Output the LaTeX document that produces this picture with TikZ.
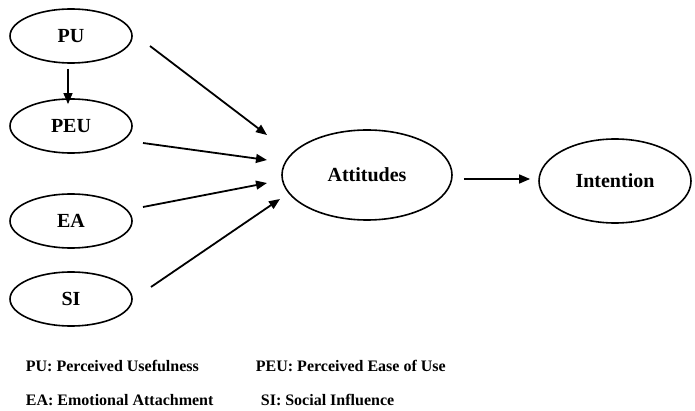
\documentclass[tikz,border=0pt]{standalone}
\usepackage{fontspec}
\setmainfont{Liberation Serif}
\usetikzlibrary{shapes.geometric, arrows.meta}

\begin{document}
\begin{tikzpicture}[x=0.5pt, y=-0.5pt, line width=0.9pt,
    construct/.style={ellipse, draw, line width=0.8pt, inner sep=0pt, font=\bfseries\fontsize{10}{12}\selectfont},
    small/.style={construct, minimum width=61pt, minimum height=27pt},
    path/.style={-{Triangle[length=5.5pt, width=4.4pt]}},
    legend/.style={anchor=base west, inner sep=0pt, font=\bfseries\fontsize{8}{10}\selectfont}]
    \useasboundingbox (0, 0) rectangle (695, 411);

    % draw constructs
    \node[small] (pu)  at (71, 36)  {PU};
    \node[small] (peu) at (71, 126) {PEU};
    \node[small] (ea)  at (71, 221) {EA};
    \node[small] (si)  at (71, 299) {SI};
    \node[construct, minimum width=85pt, minimum height=45pt] (att) at (367, 175) {Attitudes};
    \node[construct, minimum width=76pt, minimum height=42pt] (int) at (615, 181) {Intention};

    % draw arrow ends
    \coordinate (pu-out)  at (150, 46);
    \coordinate (peu-out) at (143, 143);
    \coordinate (ea-out)  at (143, 207);
    \coordinate (si-out)  at (151, 287);
    \coordinate (att-in1) at (267, 135);
    \coordinate (att-in2) at (267, 160);
    \coordinate (att-in3) at (267, 183);
    \coordinate (att-in4) at (280, 199);

    % draw arrows
    \draw[path] (pu.south) ++(-3, 5) -- ([xshift=-1.5pt, yshift=-3pt]peu.north);
    \draw[path] (pu-out)  -- (att-in1);
    \draw[path] (peu-out) -- (att-in2);
    \draw[path] (ea-out)  -- (att-in3);
    \draw[path] (si-out)  -- (att-in4);
    \draw[path] ([xshift=5.5pt, yshift=-2pt]att.east) -- ([xshift=-4pt]int.west |- 0, 179);

    % draw legend
    \node[legend] (leg-pu)  at (25, 371)  {PU: Perceived Usefulness};
    \node[legend] (leg-peu) at (255, 371) {PEU: Perceived Ease of Use};
    \node[legend] (leg-ea)  at (25, 405)  {EA: Emotional Attachment};
    \node[legend] (leg-si)  at (260, 405) {SI: Social Influence};

\end{tikzpicture}
\end{document}
